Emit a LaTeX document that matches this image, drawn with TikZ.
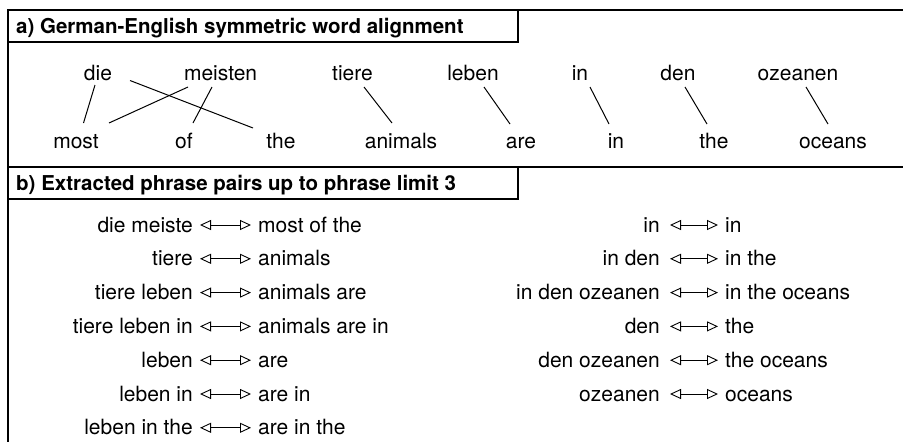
\documentclass[tikz,border=0pt]{standalone}
\usepackage{fontspec}
\setmainfont{TeX Gyre Heros}
\usetikzlibrary{arrows.meta}
\begin{document}
\begin{tikzpicture}[x=1pt,y=-1pt,
  frame/.style={line width=1.2pt},
  word/.style={anchor=base,inner sep=0pt,font=\fontsize{21}{25}\selectfont},
  titletext/.style={anchor=base west,inner sep=0pt,font=\bfseries\fontsize{20.5}{25}\selectfont},
  ltext/.style={anchor=base east,inner sep=0pt,font=\fontsize{21}{25}\selectfont},
  rtext/.style={anchor=base west,inner sep=0pt,font=\fontsize{21}{25}\selectfont},
  align/.style={line width=1pt},
  pair/.style={line width=0.9pt,{Triangle[open,length=11pt,width=10pt]}-{Triangle[open,length=11pt,width=10pt]}}
]
\useasboundingbox (0,0) rectangle (903,442);
% frame
\draw[frame] (903,10) -- (8,10) -- (8,442);
\draw[frame] (8,167) -- (903,167);
\draw[frame] (8,42) -- (518,42) -- (518,10);
\draw[frame] (8,199) -- (518,199) -- (518,167);
\node[titletext] (ta) at (16,33.5) {a) German-English symmetric word alignment};
\node[titletext] (tb) at (16,190.5) {b) Extracted phrase pairs up to phrase limit 3};
% German words
\node[word] (g1) at (98,80) {die};
\node[word] (g2) at (220.6,80) {meisten};
\node[word] (g3) at (352.5,80) {tiere};
\node[word] (g4) at (473,80) {leben};
\node[word] (g5) at (580,80) {in};
\node[word] (g6) at (678,80) {den};
\node[word] (g7) at (798,80) {ozeanen};
% English words
\node[word] (e1) at (76,148) {most};
\node[word] (e2) at (184,148) {of};
\node[word] (e3) at (281,148) {the};
\node[word] (e4) at (401,148) {animals};
\node[word] (e5) at (521,148) {are};
\node[word] (e6) at (616,148) {in};
\node[word] (e7) at (714,148) {the};
\node[word] (e8) at (833,148) {oceans};
% alignments
\draw[align] ([shift={(-3,5)}]g1.base) -- ([shift={(7.5,-25)}]e1.base);
\draw[align] ([shift={(32,0.5)}]g1.base) -- ([shift={(-28,-20)}]e3.base);
\draw[align] ([shift={(-32.6,7)}]g2.base) -- ([shift={(33,-25)}]e1.base);
\draw[align] ([shift={(-8.6,7)}]g2.base) -- ([shift={(9,-25)}]e2.base);
\draw[align] ([shift={(11.5,7)}]g3.base) -- ([shift={(-9,-25)}]e4.base);
\draw[align] ([shift={(11,7)}]g4.base) -- ([shift={(-11,-24)}]e5.base);
\draw[align] ([shift={(10,7)}]g5.base) -- ([shift={(-7,-24)}]e6.base);
\draw[align] ([shift={(7,7)}]g6.base) -- ([shift={(-7,-24)}]e7.base);
\draw[align] ([shift={(8,7)}]g7.base) -- ([shift={(-5,-24)}]e8.base);
% phrase pairs, left column
\foreach \i/\y/\l/\r in {1/232/die meiste/most of the, 2/265.8/tiere/animals, 3/299.6/tiere leben/animals are, 4/333.4/tiere leben in/animals are in, 5/367.2/leben/are, 6/401/leben in/are in, 7/434.8/leben in the/are in the}{
  \node[ltext] (l\i) at (193,\y) {\l};
  \node[rtext] (r\i) at (258,\y) {\r};
  \draw[pair] ([shift={(7,-7)}]l\i.base east) -- ([shift={(-7,-7)}]r\i.base west);
}
% right column
\foreach \i/\y/\l/\r in {1/232/in/in, 2/265.8/in den/in the, 3/299.6/in den ozeanen/in the oceans, 4/333.4/den/the, 5/367.2/den ozeanen/the oceans, 6/401/ozeanen/oceans}{
  \node[ltext] (m\i) at (660,\y) {\l};
  \node[rtext] (n\i) at (725,\y) {\r};
  \draw[pair] ([shift={(10,-7)}]m\i.base east) -- ([shift={(-7,-7)}]n\i.base west);
}
\end{tikzpicture}
\end{document}
